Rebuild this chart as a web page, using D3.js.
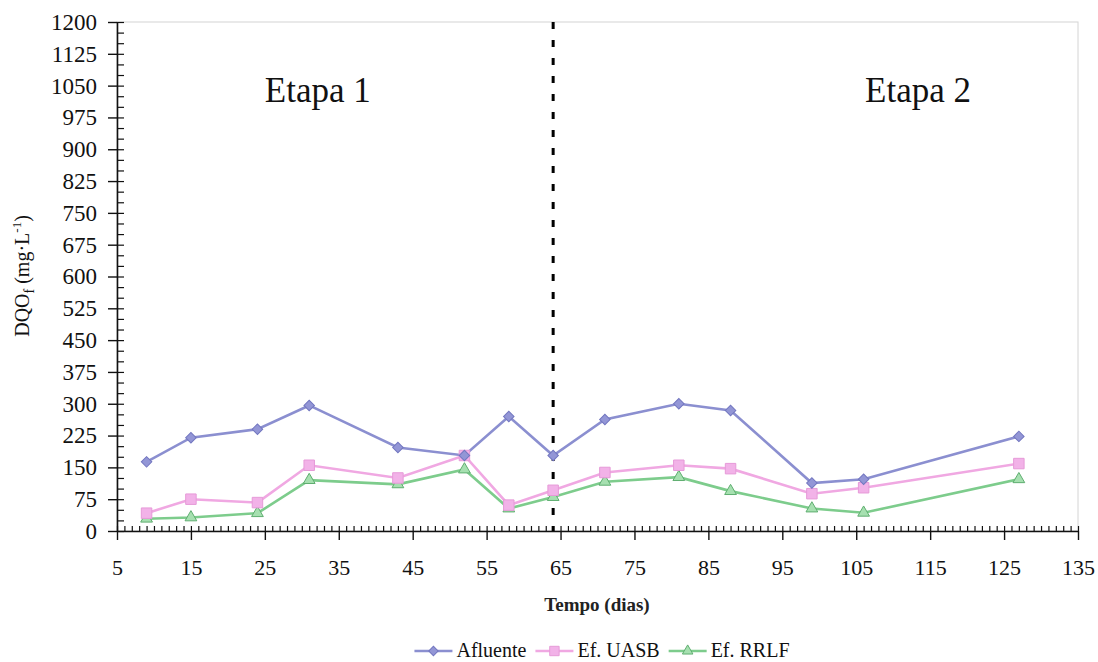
<!DOCTYPE html>
<html><head><meta charset="utf-8">
<script src="https://cdn.jsdelivr.net/npm/d3@7/dist/d3.min.js"></script>
<style>
html,body{margin:0;padding:0;background:#fff;}
svg{display:block;font-family:"Liberation Serif","Times New Roman",serif;}
svg text{font-family:"Liberation Serif","Times New Roman",serif !important;}
</style></head>
<body>
<svg id="chart" width="1098" height="662"></svg>
<script>
const days = [9, 15, 24, 31, 43, 52, 58, 64, 71, 81, 88, 99, 106, 127];
const afluente = [163, 220, 240, 296, 197, 178, 270, 178, 263, 300, 284, 113, 122, 223];
const efUASB = [42, 75, 67, 155, 125, 178, 61, 96, 138, 155, 147, 88, 102, 159];
const efRRLF = [29, 32, 42, 120, 110, 145, 53, 80, 116, 127, 94, 53, 43, 122];
const seriesNames = ["Afluente", "Ef. UASB", "Ef. RRLF"];
const yTickValues = d3.range(0, 1201, 75);
const xTickValues = d3.range(5, 136, 10);
const stageDay = 64;
const stageLabels = ["Etapa 1", "Etapa 2"];

const svg = d3.select("#chart");
const x = d3.scaleLinear().domain([5, 135]).range([117, 1078]);
const y = d3.scaleLinear().domain([0, 1200]).range([531, 22]);
const serif = "Liberation Serif";

// plot border (light gray)
svg.append("rect").attr("x", x(5)).attr("y", y(1200))
  .attr("width", x(135) - x(5)).attr("height", y(0) - y(1200))
  .attr("fill", "none").attr("stroke", "#d4d4d4").attr("stroke-width", 1);

// Y axis
const yAxis = svg.append("g").attr("transform", `translate(${x(5)},0)`)
  .call(d3.axisLeft(y).tickValues(yTickValues).tickFormat(d3.format("d"))
    .tickSizeInner(9).tickSizeOuter(0).tickPadding(11));
yAxis.attr("font-family", serif).attr("font-size", 23);
yAxis.selectAll("text").style("font-family", serif).style("font-size", "23px").attr("fill", "#111");
yAxis.select(".domain").attr("stroke", "#111").attr("stroke-width", 1.6);
yAxis.selectAll(".tick line").attr("stroke", "#111").attr("stroke-width", 1.4);
svg.append("g").attr("transform", `translate(${x(5)},0)`)
  .call(d3.axisRight(y).tickValues(d3.range(0, 1201, 25)).tickSize(7).tickFormat(""))
  .call(g => g.select(".domain").remove())
  .selectAll("line").attr("stroke", "#111").attr("stroke-width", 1.2);

// X axis
const xAxis = svg.append("g").attr("transform", `translate(0,${y(0)})`)
  .call(d3.axisBottom(x).tickValues(xTickValues).tickFormat(d3.format("d"))
    .tickSizeInner(9).tickSizeOuter(0).tickPadding(19));
xAxis.attr("font-family", serif).attr("font-size", 22);
xAxis.selectAll("text").style("font-family", serif).style("font-size", "22px").attr("fill", "#111");
xAxis.select(".domain").attr("stroke", "#111").attr("stroke-width", 1.6);
xAxis.selectAll(".tick line").attr("stroke", "#111").attr("stroke-width", 1.4);
svg.append("g").attr("transform", `translate(0,${y(0)})`)
  .call(d3.axisTop(x).tickValues(d3.range(5, 136, 1)).tickSize(5).tickFormat(""))
  .call(g => g.select(".domain").remove())
  .selectAll("line").attr("stroke", "#111").attr("stroke-width", 1.2);

// stage divider
svg.append("line").attr("x1", x(stageDay)).attr("x2", x(stageDay))
  .attr("y1", y(1200)).attr("y2", y(0))
  .attr("stroke", "#000").attr("stroke-width", 3).attr("stroke-dasharray", "7,11");

// stage labels
svg.append("text").attr("x", x(25)).attr("y", y(1012)).attr("font-size", 35).attr("fill", "#111").text(stageLabels[0]);
svg.append("text").attr("x", x(106.2)).attr("y", y(1012)).attr("font-size", 35).attr("fill", "#111").text(stageLabels[1]);

// series
const styles = [
  {vals: afluente, line: "#8b8fd0", fill: "#9396d6", stroke: "#7377c0", shape: d3.symbolSquare, size: 55, rot: 45},
  {vals: efUASB, line: "#f0a8e2", fill: "#f2b2e8", stroke: "#e69ad8", shape: d3.symbolSquare, size: 110, rot: 0},
  {vals: efRRLF, line: "#7dcc8c", fill: "#a6e0b0", stroke: "#5fae70", shape: d3.symbolTriangle, size: 60, rot: 0}
];
const line = d3.line().x((d, i) => x(days[i])).y(d => y(d));
[2, 1, 0].forEach(k => {
  const s = styles[k];
  svg.append("path").datum(s.vals).attr("d", line)
    .attr("fill", "none").attr("stroke", s.line).attr("stroke-width", 2.6);
});
[2, 1, 0].forEach(k => {
  const s = styles[k];
  svg.append("g").selectAll("path").data(s.vals).join("path")
    .attr("transform", (d, i) => `translate(${x(days[i])},${y(d)}) rotate(${s.rot})`)
    .attr("d", d3.symbol().type(s.shape).size(s.size))
    .attr("fill", s.fill).attr("stroke", s.stroke).attr("stroke-width", 1);
});

// axis titles
svg.append("text").attr("x", 597).attr("y", 611).attr("text-anchor", "middle")
  .attr("font-size", 19).attr("font-weight", "bold").attr("fill", "#222").text("Tempo (dias)");

const yl = svg.append("text").attr("transform", "translate(29,276) rotate(-90)")
  .attr("text-anchor", "middle").attr("font-size", 20).attr("fill", "#111");
yl.append("tspan").text("DQO");
yl.append("tspan").attr("font-size", 14).attr("dy", 5).text("f");
yl.append("tspan").attr("dy", -5).text(" (mg·L");
yl.append("tspan").attr("font-size", 13).attr("dy", -8).text("-1");
yl.append("tspan").attr("dy", 8).text(")");

// legend
const lg = svg.append("g");
let cx = 0;
seriesNames.forEach((name, k) => {
  const s = styles[k];
  const g = lg.append("g").attr("transform", `translate(${cx},0)`);
  g.append("line").attr("x1", 0).attr("x2", 38).attr("y1", 0).attr("y2", 0)
    .attr("stroke", s.line).attr("stroke-width", 2.6);
  g.append("path").attr("transform", `translate(19,0) rotate(${s.rot})`)
    .attr("d", d3.symbol().type(s.shape).size(s.size * 0.8))
    .attr("fill", s.fill).attr("stroke", s.stroke).attr("stroke-width", 1);
  const t = g.append("text").attr("x", 42).attr("y", 6).attr("font-size", 20).attr("fill", "#111").text(name);
  cx += 42 + t.node().getComputedTextLength() + 9;
});
const total = cx - 9;
lg.attr("transform", `translate(${602 - total / 2},651)`);
</script>
</body></html>
